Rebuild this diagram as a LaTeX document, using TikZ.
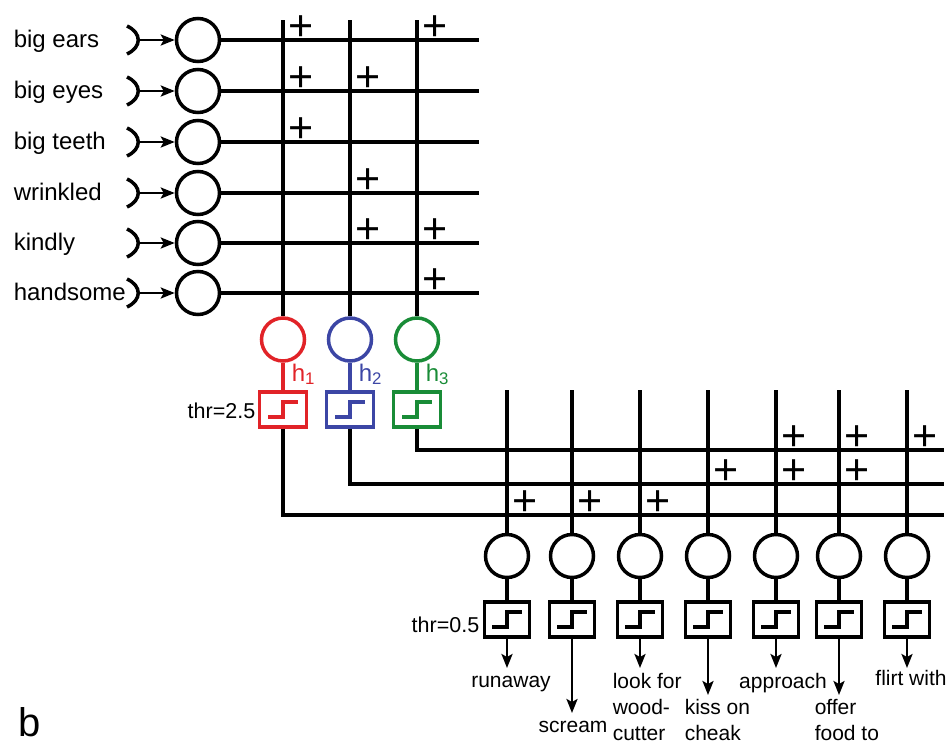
\documentclass[tikz,border=0pt]{standalone}
\usepackage{fontspec}
\setmainfont{Liberation Sans}
\usetikzlibrary{arrows.meta}
\definecolor{hred}{RGB}{225,35,40}
\definecolor{hblue}{RGB}{60,70,165}
\definecolor{hgreen}{RGB}{25,140,55}
\begin{document}
\begin{tikzpicture}[x=1pt,y=-1pt,line width=3.5pt,
  unit/.style={circle,draw,minimum size=43pt,inner sep=0pt,line width=3.5pt},
  stepbox/.style={rectangle,draw,minimum height=35pt,inner sep=0pt,line width=3.5pt,
    path picture={\draw[line width=3.5pt] ([xshift=-15pt,yshift=-7.5pt]path picture bounding box.center) -- ++(15pt,0pt) -- ++(0pt,15pt) -- ++(15pt,0pt);}},
  hbox/.style={stepbox,minimum width=47pt},
  obox/.style={stepbox,minimum width=45pt},
  arr/.style={-{Stealth[length=14pt,width=11pt,inset=3pt]},line width=2.5pt},
  cupline/.style={line width=3.5pt},
  inlabel/.style={font=\fontsize{24}{28}\selectfont,inner sep=0pt,anchor=base west},
  outlabel/.style={font=\fontsize{21}{26}\selectfont,inner sep=0pt,align=left},
  thrlabel/.style={font=\fontsize{21.5}{26}\selectfont,inner sep=0pt,anchor=base east},
  hlabel/.style={font=\fontsize{24}{28}\selectfont,inner sep=0pt,anchor=base west},
  plus/.style={font=\fontsize{43}{43}\selectfont,inner sep=0pt,anchor=base}]
\useasboundingbox (0,0) rectangle (949,742);

% input layer
\foreach \i/\y/\t in {1/40/big ears,2/91/big eyes,3/142/big teeth,4/193/wrinkled,5/243/kindly,6/293/handsome}{
  \node[inlabel] (lab\i) at (12,\y+7) {\t};
  \draw[cupline] (127,\y-14) .. controls (142,\y-7) and (142,\y+7) .. (127,\y+14);
  \coordinate (cup\i) at (138,\y);
  \node[unit] (in\i) at (198,\y) {};
  \coordinate (ie\i) at (479,\y);
  \draw[arr] (cup\i) -- (in\i);
  \draw (in\i) -- (ie\i);
}

% hidden layer
\foreach \i/\x/\c/\ye in {1/283/hred/515,2/350/hblue/484,3/417/hgreen/450}{
  \coordinate (ht\i) at (\x,20);
  \node[unit,draw=\c] (hc\i) at (\x,339.5) {};
  \node[hbox,color=\c] (hb\i) at (\x,409.5) {};
  \coordinate (he\i) at (944,\ye);
  \draw (ht\i) -- (hc\i);
  \draw[\c] (hc\i) -- (hb\i);
  \draw (hb\i) |- (he\i);
  \node[hlabel,text=\c] (hl\i) at (\x+7,381) {h\textsubscript{\i}};
}
\node[thrlabel] (thr1) at (257,418) {thr=2.5};

% output layer
\foreach \i/\x/\ye in {1/507/668,2/572/713,3/640/668,4/708/695,5/776/668,6/839/695,7/907/668}{
  \coordinate (ot\i) at (\x,390);
  \node[unit] (oc\i) at (\x,556) {};
  \node[obox] (ob\i) at (\x,619.5) {};
  \coordinate (oe\i) at (\x,\ye);
  \draw (ot\i) -- (oc\i);
  \draw (oc\i) -- (ob\i);
  \draw[arr] (ob\i) -- (oe\i);
}
\node[thrlabel] (thr2) at (481,632) {thr=0.5};

% pluses
\foreach \x/\y [count=\k] in {283/40,283/91,283/142,350/91,350/193,350/243,417/40,417/243,417/293,
   507/515,572/515,640/515,708/484,776/484,839/484,776/450,839/450,907/450}{
  \node[plus] (p\k) at (\x+18,\y+0.5) {+};
}

% output labels
\node[outlabel,anchor=base] (o1) at (511,687) {runaway};
\node[outlabel,anchor=base] (o2) at (573,732) {scream};
\node[outlabel,anchor=base west] (o3) at (611,740) {look for\\wood-\\cutter};
\node[outlabel,anchor=base west] (o4) at (683,740) {kiss on\\cheak};
\node[outlabel,anchor=base] (o5) at (783,688) {approach};
\node[outlabel,anchor=base west] (o6) at (813,740) {offer\\food to};
\node[outlabel,anchor=base] (o7) at (911,685) {flirt with};

\node[font=\fontsize{40}{44}\selectfont,inner sep=0pt,anchor=base west] (b) at (17,736) {b};
\end{tikzpicture}
\end{document}
